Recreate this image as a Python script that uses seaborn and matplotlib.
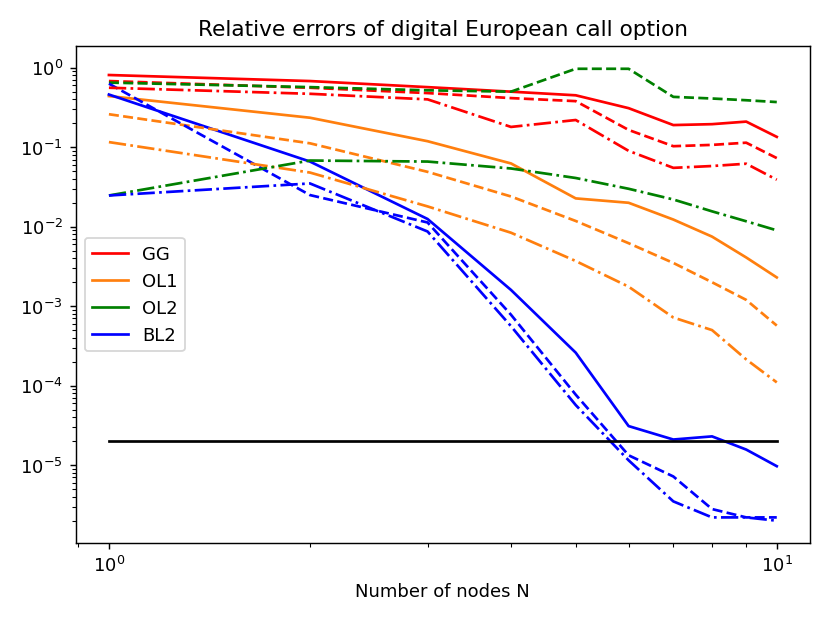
import numpy as np
import pandas as pd
import matplotlib
matplotlib.use('Agg')
import matplotlib.pyplot as plt
from matplotlib.lines import Line2D
import seaborn as sns

# ── data ─────────────────────────────────────────────────────────────────────
N = [1, 2, 3, 4, 5, 6, 7, 8, 9, 10]

gg_solid   = [0.81, 0.68, 0.57, 0.50, 0.45, 0.31, 0.19, 0.195, 0.21, 0.135]
gg_dashed  = [0.68, 0.56, 0.48, 0.415, 0.38, 0.165, 0.103, 0.107, 0.114, 0.073]
gg_dashdot = [0.56, 0.47, 0.40, 0.18, 0.22, 0.09, 0.055, 0.058, 0.062, 0.039]

ol1_solid   = [0.44, 0.235, 0.119, 0.0625, 0.0227, 0.020, 0.0123, 0.0075, 0.0041, 0.0023]
ol1_dashed  = [0.26, 0.112, 0.049, 0.024, 0.0118, 0.0062, 0.0035, 0.0020, 0.0012, 0.00057]
ol1_dashdot = [0.116, 0.048, 0.018, 0.0084, 0.0037, 0.00176, 0.00072, 0.0005, 0.000214, 0.00011]

ol2_dashed  = [0.65, 0.57, 0.52, 0.50, 0.97, 0.97, 0.43, 0.41, 0.39, 0.37]
ol2_dashdot = [0.0247, 0.068, 0.066, 0.054, 0.041, 0.030, 0.022, 0.0156, 0.0117, 0.0090]

bl2_solid   = [0.46, 0.066, 0.0125, 0.0016, 0.00026, 3.1e-5, 2.1e-5, 2.3e-5, 1.57e-5, 9.7e-6]
bl2_dashed  = [0.63, 0.025, 0.0113, 0.00078, 7.7e-5, 1.33e-5, 7.2e-6, 2.8e-6, 2.2e-6, 2.2e-6]
bl2_dashdot = [0.0247, 0.035, 0.0087, 0.00056, 5.7e-5, 1.15e-5, 3.5e-6, 2.2e-6, 2.2e-6, 2.0e-6]

tolerance = [2e-5] * len(N)

methods = ['GG', 'OL1', 'OL2', 'BL2']
colors = {'GG': 'red', 'OL1': '#ff7f0e', 'OL2': 'green', 'BL2': 'blue'}

# style -> method -> values
series = {
    '-':  {'GG': gg_solid, 'OL1': ol1_solid, 'BL2': bl2_solid},
    '--': {'GG': gg_dashed, 'OL1': ol1_dashed, 'OL2': ol2_dashed, 'BL2': bl2_dashed},
    '-.': {'GG': gg_dashdot, 'OL1': ol1_dashdot, 'OL2': ol2_dashdot, 'BL2': bl2_dashdot},
}

# ── plot ─────────────────────────────────────────────────────────────────────
fig, ax = plt.subplots(figsize=(6.4, 4.8), dpi=129.7)
fig.subplots_adjust(left=0.091, right=0.976, top=0.925, bottom=0.127)

for ls, group in series.items():
    for m in methods:
        if m not in group:
            continue
        sns.lineplot(x=N, y=group[m], ax=ax, color=colors[m], linestyle=ls,
                     linewidth=1.5, legend=False)

sns.lineplot(x=N, y=tolerance, ax=ax, color='black', linewidth=1.5, legend=False)

ax.set_xscale('log')
ax.set_yscale('log')
ax.set_ylim(1.05e-6, 1.87)
ax.set_title('Relative errors of digital European call option')
ax.set_xlabel('Number of nodes N')
ax.set_ylabel('')

handles = [Line2D([], [], color=colors[m], linewidth=1.5) for m in methods]
ax.legend(handles, methods, loc='center left')

fig.savefig('out.png', dpi=129.7)
